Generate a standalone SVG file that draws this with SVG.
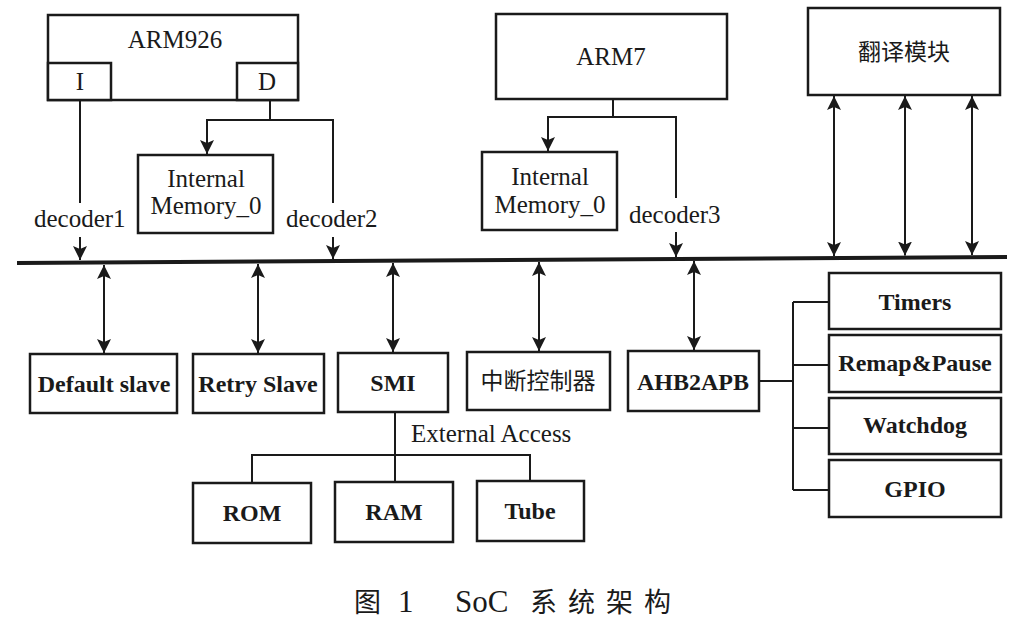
<svg xmlns="http://www.w3.org/2000/svg" width="1019" height="631" viewBox="0 0 1019 631">
<style>
.box{fill:#fff;stroke:#1a1a1a;stroke-width:2.5}
.ln{fill:none;stroke:#1a1a1a;stroke-width:2}
.bus{fill:none;stroke:#1a1a1a;stroke-width:4}
.t{font-family:"Liberation Serif","Times New Roman",serif;font-size:25px;fill:#1a1a1a;text-anchor:middle}
.tb{font-family:"Liberation Serif","Times New Roman",serif;font-size:24px;font-weight:bold;fill:#1a1a1a;text-anchor:middle}
.l{text-anchor:start}
.cjk{font-family:"Noto Sans CJK SC","Noto Sans",sans-serif;font-size:23px;fill:#1a1a1a;text-anchor:middle}
.cap{font-family:"Liberation Serif","Noto Sans CJK SC",serif;font-size:31px;fill:#1a1a1a}
</style>
<defs>
<marker id="ah" viewBox="0 0 14 14" refX="14" refY="7" markerWidth="14" markerHeight="14" markerUnits="userSpaceOnUse" orient="auto-start-reverse">
<path d="M0,0 L14,7 L0,14 L3,7 z" fill="#1a1a1a"/>
</marker>
</defs>
<rect width="1019" height="631" fill="#fff"/>

<g id="connectors">
<line class="bus" x1="17" y1="263" x2="1007" y2="257"/>
<line class="ln" x1="80" y1="100" x2="80" y2="203"/>
<line class="ln" x1="80" y1="237" x2="80" y2="260" marker-end="url(#ah)"/>
<polyline class="ln" points="270,100 270,120 207,120 207,154" marker-end="url(#ah)"/>
<polyline class="ln" points="270,120 333,120 333,203"/>
<line class="ln" x1="333" y1="237" x2="333" y2="259" marker-end="url(#ah)"/>
<polyline class="ln" points="613,99 613,117 548,117 548,151" marker-end="url(#ah)"/>
<polyline class="ln" points="613,117 676,117 676,198"/>
<line class="ln" x1="676" y1="232" x2="676" y2="257" marker-end="url(#ah)"/>
<line class="ln" x1="834" y1="96" x2="834" y2="256" marker-start="url(#ah)" marker-end="url(#ah)"/>
<line class="ln" x1="905" y1="96" x2="905" y2="255.5" marker-start="url(#ah)" marker-end="url(#ah)"/>
<line class="ln" x1="972" y1="96" x2="972" y2="255" marker-start="url(#ah)" marker-end="url(#ah)"/>
<line class="ln" x1="104" y1="265" x2="104" y2="353" marker-start="url(#ah)" marker-end="url(#ah)"/>
<line class="ln" x1="258" y1="264" x2="258" y2="353" marker-start="url(#ah)" marker-end="url(#ah)"/>
<line class="ln" x1="393" y1="263" x2="393" y2="352" marker-start="url(#ah)" marker-end="url(#ah)"/>
<line class="ln" x1="539" y1="262" x2="539" y2="351" marker-start="url(#ah)" marker-end="url(#ah)"/>
<line class="ln" x1="694" y1="261" x2="694" y2="350" marker-start="url(#ah)" marker-end="url(#ah)"/>
<line class="ln" x1="395" y1="412" x2="395" y2="482"/>
<polyline class="ln" points="252,483 252,455 530,455 530,481"/>
<line class="ln" x1="759" y1="381" x2="793" y2="381"/>
<line class="ln" x1="793" y1="302" x2="793" y2="490"/>
<line class="ln" x1="793" y1="302" x2="829" y2="302"/>
<line class="ln" x1="793" y1="365" x2="829" y2="365"/>
<line class="ln" x1="793" y1="428" x2="829" y2="428"/>
<line class="ln" x1="793" y1="490" x2="829" y2="490"/>
</g>

<g id="arm926">
<rect class="box" x="48" y="15" width="250" height="85"/>
<text class="t" x="175" y="48">ARM926</text>
</g>
<g id="arm926-i">
<rect class="box" x="48" y="63" width="63" height="37"/>
<text class="t" x="80" y="90">I</text>
</g>
<g id="arm926-d">
<rect class="box" x="237" y="63" width="61" height="37"/>
<text class="t" x="267" y="90">D</text>
</g>
<g id="decoder1"><text class="t l" x="34" y="227">decoder1</text></g>
<g id="decoder2"><text class="t l" x="286" y="227">decoder2</text></g>
<g id="mem0a">
<rect class="box" x="138" y="155" width="135" height="78"/>
<text class="t" x="206" y="187">Internal</text>
<text class="t" x="206" y="214">Memory_0</text>
</g>
<g id="arm7">
<rect class="box" x="496" y="14" width="231" height="85"/>
<text class="t" x="611" y="65">ARM7</text>
</g>
<g id="mem0b">
<rect class="box" x="482" y="152" width="135" height="78"/>
<text class="t" x="550" y="185">Internal</text>
<text class="t" x="550" y="213">Memory_0</text>
</g>
<g id="decoder3"><text class="t l" x="629" y="223">decoder3</text></g>
<g id="translate">
<rect class="box" x="808" y="8" width="192" height="87"/>
<text class="cjk" x="904" y="60">翻译模块</text>
</g>
<g id="default-slave">
<rect class="box" x="30" y="354" width="147" height="59"/>
<text class="tb" x="104" y="392">Default slave</text>
</g>
<g id="retry-slave">
<rect class="box" x="193" y="354" width="131" height="59"/>
<text class="tb" x="258" y="392">Retry Slave</text>
</g>
<g id="smi">
<rect class="box" x="338" y="353" width="110" height="59"/>
<text class="tb" x="393" y="391">SMI</text>
</g>
<g id="irq">
<rect class="box" x="467" y="352" width="143" height="58"/>
<text class="cjk" x="538" y="389">中断控制器</text>
</g>
<g id="ahb2apb">
<rect class="box" x="628" y="351" width="131" height="60"/>
<text class="tb" x="693" y="390">AHB2APB</text>
</g>
<g id="external-access"><text class="t l" x="411" y="442">External Access</text></g>
<g id="rom">
<rect class="box" x="193" y="483" width="118" height="60"/>
<text class="tb" x="252" y="521">ROM</text>
</g>
<g id="ram">
<rect class="box" x="335" y="482" width="118" height="60"/>
<text class="tb" x="394" y="520">RAM</text>
</g>
<g id="tube">
<rect class="box" x="477" y="481" width="107" height="60"/>
<text class="tb" x="530" y="519">Tube</text>
</g>
<g id="timers">
<rect class="box" x="829" y="273" width="172" height="56"/>
<text class="tb" x="915" y="310">Timers</text>
</g>
<g id="remap">
<rect class="box" x="829" y="335" width="172" height="57"/>
<text class="tb" x="915" y="371">Remap&amp;Pause</text>
</g>
<g id="watchdog">
<rect class="box" x="829" y="398" width="172" height="56"/>
<text class="tb" x="915" y="433">Watchdog</text>
</g>
<g id="gpio">
<rect class="box" x="829" y="460" width="172" height="57"/>
<text class="tb" x="915" y="497">GPIO</text>
</g>
<g id="caption">
<text class="cap" y="612"><tspan x="354" font-family="Noto Sans CJK SC, sans-serif" font-size="27">图</tspan><tspan x="398">1</tspan><tspan x="455">SoC</tspan><tspan x="530" font-family="Noto Sans CJK SC, sans-serif" font-size="27" letter-spacing="11">系统架构</tspan></text>
</g>
</svg>
